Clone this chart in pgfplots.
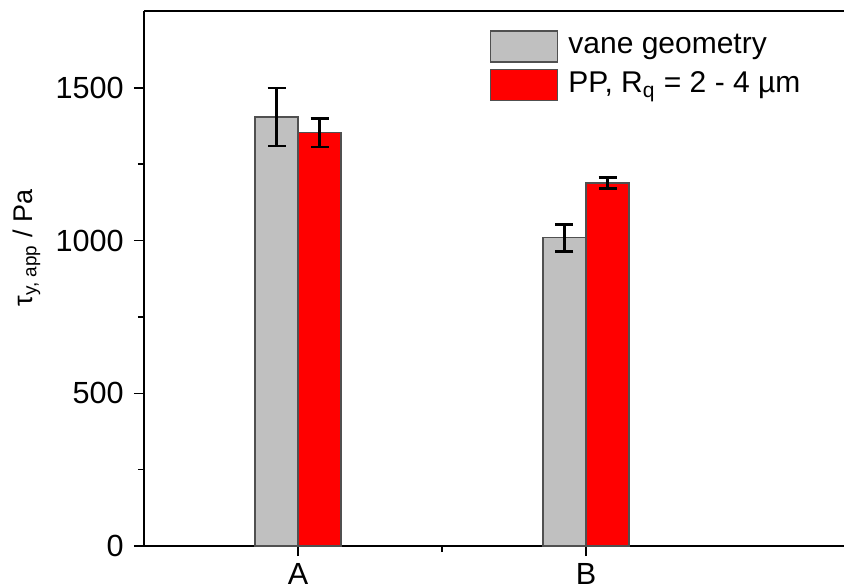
\documentclass[border=0pt]{standalone}
\usepackage{pgfplots}
\pgfplotsset{compat=1.18}
\usepackage{fontspec}
\setmainfont{Liberation Sans}
\definecolor{barGray}{RGB}{192,192,192}
\definecolor{barRed}{RGB}{255,0,0}
\definecolor{edgeGray}{RGB}{80,80,80}
\begin{document}
\fontsize{15bp}{18bp}\selectfont
\begin{tikzpicture}
\begin{axis}[
  at={(0,0)}, anchor=south west,
  scale only axis, width=350bp, height=267.5bp,
  xmin=0.465, xmax=2.896, ymin=0, ymax=1752,
  axis x line=box, axis y line=left,
  axis line style={line width=0.9bp, -},
  ybar, bar shift=0pt, bar width=0.149,
  xtick={1,2}, xticklabels={A,B}, minor xtick={1.5},
  ytick={0,500,1000,1500}, minor ytick={250,750,1250},
  xtick pos=bottom, ytick pos=left,
  tick align=outside,
  major tick length=5bp, minor tick length=3bp,
  every tick/.style={black, line width=0.8bp},
  /pgf/number format/assume math mode=true,
  /pgf/number format/1000 sep={},
  tick label style={font=\fontsize{15.3bp}{18bp}\selectfont},
  xticklabel style={yshift=1.5bp},
  ylabel={\fontsize{13.5bp}{16bp}\selectfont τ\textsubscript{y, app} / Pa},
  ylabel style={at={(axis description cs:-0.168,0.557)}, anchor=center},
  legend style={at={(rel axis cs:0.494,0.9645)}, anchor=north west,
    draw=none, fill=none, inner sep=0pt, row sep=3bp,
    nodes={inner sep=0pt, font=\fontsize{15bp}{18bp}\selectfont}},
  legend cell align=left,
  legend image code/.code={\draw[#1, line width=0.6bp] (0bp,-7.75bp) rectangle (33.5bp,7.75bp);
    \path (38.5bp,0bp);},
  error bars/y dir=both, error bars/y explicit,
  error bars/error bar style={black, line width=1.3bp},
  error bars/error mark options={rotate=90, mark size=4.5bp, line width=1.3bp, black},
]
\addplot[fill=barGray, draw=edgeGray, line width=0.6bp] coordinates {
  (0.9253,1405) +- (0,95)
  (1.9253,1009) +- (0,44)
};
\addlegendentry{vane geometry}
\addplot[fill=barRed, draw=edgeGray, line width=0.6bp] coordinates {
  (1.0747,1353) +- (0,47)
  (2.0747,1189) +- (0,18)
};
\addlegendentry{PP, R\textsubscript{q} = 2 - 4 µm}
\end{axis}
\pgfresetboundingbox
\path (-72bp,-21bp) rectangle (350bp,273bp);
\end{tikzpicture}
\end{document}
